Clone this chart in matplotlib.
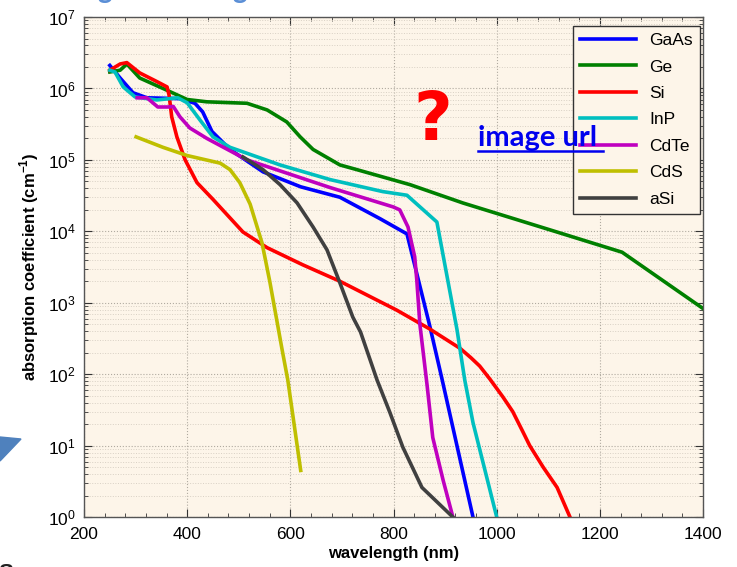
import matplotlib
matplotlib.use("Agg")
import matplotlib.pyplot as plt
from matplotlib.ticker import MultipleLocator, LogLocator, NullFormatter
from matplotlib.patches import Polygon

plt.rcParams["font.family"] = ["Liberation Sans", "DejaVu Sans"]
plt.rcParams["mathtext.fontset"] = "custom"
plt.rcParams["mathtext.rm"] = "Liberation Sans"
plt.rcParams["mathtext.bf"] = "Liberation Sans:bold"

# absorption data (wavelength nm, alpha cm^-1)
gaas_wl = [250, 270, 295, 322, 386, 415, 430, 448, 483, 547, 620, 696, 774, 826, 870, 894, 954]
gaas = [2.1e6, 1.4e6, 8.7e5, 7.4e5, 7.2e5, 6.2e5, 4.7e5, 2.5e5, 1.4e5, 6.8e4, 4.2e4, 3.0e4, 1.5e4, 9.2e3, 480, 85, 1.0]

ge_wl = [250, 270, 283, 308, 353, 400, 438, 516, 555, 593, 619, 644, 696, 729, 832, 934, 1103, 1243, 1400]
ge = [1.7e6, 1.8e6, 2.2e6, 1.4e6, 1.0e6, 7.0e5, 6.5e5, 6.2e5, 5.0e5, 3.4e5, 2.1e5, 1.4e5, 8.5e4, 7.3e4, 4.5e4, 2.5e4, 1.05e4, 5.1e3, 8.3e2]

si_wl = [250, 270, 283, 308, 341, 361, 365, 370, 380, 396, 419, 450, 508, 555, 624, 696, 806, 870,
         929, 950, 967, 987, 1012, 1031, 1050, 1064, 1090, 1117, 1142]
si = [1.8e6, 2.2e6, 2.3e6, 1.65e6, 1.25e6, 1.05e6, 8e5, 4e5, 2.1e5, 1.0e5, 4.8e4, 2.8e4, 9.8e3, 5.9e3,
      3.4e3, 2.0e3, 7.9e2, 4.3e2, 2.3e2, 1.7e2, 1.3e2, 85, 48, 30, 16, 10, 5, 2.6, 1.0]

inp_wl = [250, 260, 276, 299, 341, 382, 400, 425, 450, 483, 580, 677, 779, 826, 884, 923, 938, 954, 1000]
inp = [1.8e6, 1.7e6, 1.05e6, 7.6e5, 6.9e5, 7.4e5, 6.3e5, 3.6e5, 2.1e5, 1.5e5, 8.5e4, 5.3e4, 3.6e4, 3.2e4,
       1.35e4, 420, 83, 21, 1.0]

cdte_wl = [303, 322, 343, 363, 373, 386, 405, 438, 516, 677, 799, 812, 828, 841, 845, 851, 865, 876, 896, 915]
cdte = [7.4e5, 7.4e5, 5.5e5, 5.5e5, 5.6e5, 4.0e5, 2.8e5, 2.0e5, 1.0e5, 4.1e4, 2.2e4, 2.0e4, 1.15e4, 4.4e3,
        2.1e3, 500, 70, 13, 3.3, 1.0]

cds_wl = [301, 353, 400, 464, 483, 502, 522, 545, 560, 584, 595, 620]
cds = [2.1e5, 1.5e5, 1.15e5, 9.0e4, 7.3e4, 4.8e4, 2.4e4, 6.9e3, 2.0e3, 220, 83, 4.5]

asi_wl = [508, 547, 580, 613, 644, 671, 696, 721, 736, 768, 793, 818, 855, 915]
asi = [1.1e5, 7.3e4, 4.5e4, 2.5e4, 1.15e4, 5.5e3, 1.9e3, 630, 390, 83, 29, 9.5, 2.6, 1.0]

bg = "#fdf5e9"
W, H = 737, 567

fig = plt.figure(figsize=(7.37, 5.67), dpi=100)
ax = fig.add_axes([0.114, 0.088, 0.840, 0.882])
ax.set_facecolor(bg)

lw = 2.6
ax.plot(gaas_wl, gaas, color="#0000ff", lw=lw, label="GaAs")
ax.plot(ge_wl, ge, color="#008000", lw=lw, label="Ge")
ax.plot(si_wl, si, color="#ff0000", lw=lw, label="Si")
ax.plot(inp_wl, inp, color="#00bfbf", lw=lw, label="InP")
ax.plot(cdte_wl, cdte, color="#bf00bf", lw=lw, label="CdTe")
ax.plot(cds_wl, cds, color="#bfbf00", lw=lw, label="CdS")
ax.plot(asi_wl, asi, color="#404040", lw=lw, label="aSi")

ax.set_yscale("log")
ax.set_xlim(200, 1400)
ax.set_ylim(1, 1e7)
ax.xaxis.set_major_locator(MultipleLocator(200))
ax.xaxis.set_minor_locator(MultipleLocator(40))
ax.yaxis.set_major_locator(LogLocator(base=10, numticks=10))
ax.yaxis.set_minor_locator(LogLocator(base=10, subs=range(2, 10), numticks=20))
ax.yaxis.set_minor_formatter(NullFormatter())

ax.tick_params(which="both", direction="in", top=True, right=True, colors="#333333", labelcolor="black")
ax.tick_params(which="major", length=6, labelsize=12.5)
ax.tick_params(which="minor", length=3)
ax.tick_params(axis="y", which="major", pad=6)
ax.tick_params(axis="x", which="major", pad=7)
for s in ax.spines.values():
    s.set_color("#555555")
    s.set_linewidth(1.0)

ax.grid(which="major", axis="both", linestyle=":", color="#b0aaa0", linewidth=0.8)
ax.grid(which="minor", axis="y", linestyle=":", color="#d8d0c4", linewidth=0.7)

ax.set_xlabel("wavelength (nm)", fontsize=12, fontweight="bold", labelpad=3)
ax.set_ylabel("absorption coefficient (cm$^{\\mathbf{-1}}$)", fontsize=12, fontweight="bold", labelpad=5)

leg = ax.legend(loc="upper right", bbox_to_anchor=(0.995, 0.982), borderaxespad=0, fontsize=12.5,
                handlelength=3.2, labelspacing=0.65, fancybox=False, framealpha=1,
                facecolor=bg, edgecolor="#333333")
leg.get_frame().set_linewidth(1.0)

# overlay items from the source slide
fig.text(433 / W, 1 - 140 / H, "?", color="#ff0000", fontsize=48, fontweight="bold", ha="center",
         va="baseline", family=["DejaVu Sans"])
fig.text(478 / W, 1 - 146 / H, "image url", color="#0000ee", fontsize=21, fontweight="bold", ha="left",
         va="baseline", family=["Lato", "DejaVu Sans"], zorder=5)
fig.add_artist(plt.Line2D([478 / W, 603 / W], [1 - 151 / H, 1 - 151 / H], color="#0000ee", lw=1.8))

fig.add_artist(Polygon([[0, 1 - 437 / H], [21 / W, 1 - 439 / H], [0, 1 - 461 / H]],
                       closed=True, color="#4f81bd", transform=fig.transFigure))
fig.text(105 / W, 1 + 2 / H, "g", color="#5b8fd6", fontsize=20, fontweight="bold", ha="center",
         va="baseline", family=["Lato"])
fig.text(240 / W, 1 + 2 / H, "g", color="#5b8fd6", fontsize=20, fontweight="bold", ha="center",
         va="baseline", family=["Lato"])
fig.text(-2 / W, -12 / H, "S", color="#222222", fontsize=16, fontweight="bold", ha="left", va="baseline")

fig.savefig("out.png", dpi=100)
